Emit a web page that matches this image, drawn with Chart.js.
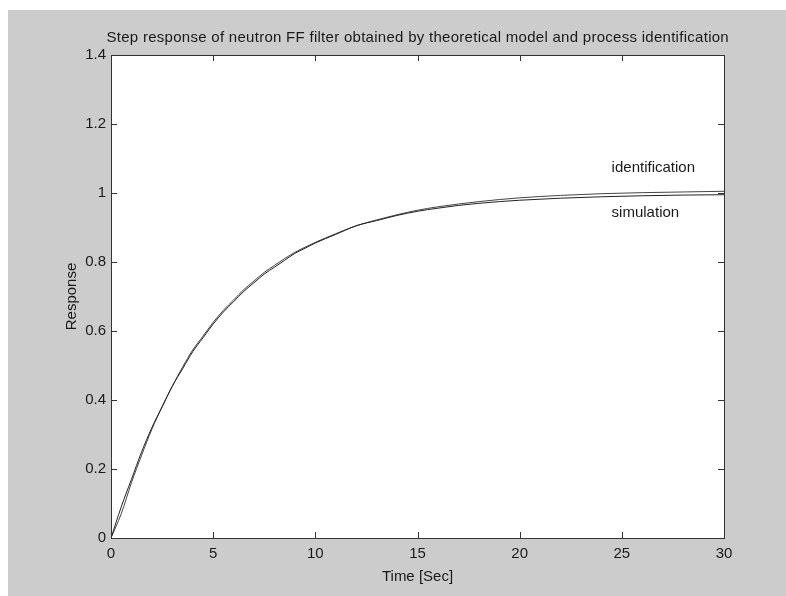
<!DOCTYPE html>
<html>
<head>
<meta charset="utf-8">
<script src="https://cdn.jsdelivr.net/npm/chart.js@4/dist/chart.umd.min.js"></script>
<style>
html,body{margin:0;padding:0;background:#ffffff;}
#wrap{position:absolute;left:0;top:0;width:786px;height:596px;}
</style>
</head>
<body>
<div id="wrap"><canvas id="c" width="786" height="596"></canvas></div>
<script>
// ---- data ----
const timeSec = [0,0.5,1,1.5,2,2.5,3,3.5,4,4.5,5,5.5,6,6.5,7,7.5,8,8.5,9,9.5,10,11,12,13,14,15,16,17,18,19,20,22,24,26,28,30];
const simulation = [0,0.09,0.17,0.25,0.32,0.38,0.44,0.49,0.54,0.58,0.62,0.655,0.685,0.715,0.74,0.765,0.785,0.805,0.825,0.84,0.855,0.88,0.905,0.92,0.935,0.947,0.956,0.964,0.97,0.975,0.979,0.985,0.989,0.992,0.994,0.995];
const identification = [0,0.07,0.16,0.24,0.315,0.38,0.44,0.495,0.545,0.585,0.625,0.66,0.69,0.72,0.745,0.77,0.79,0.81,0.828,0.843,0.857,0.882,0.905,0.922,0.937,0.95,0.96,0.968,0.975,0.981,0.986,0.993,0.998,1.001,1.003,1.005];
const xTicks = [0,5,10,15,20,25,30];
const yTicks = [0,0.2,0.4,0.6,0.8,1,1.2,1.4];
const titleText = "Step response of neutron FF filter obtained by theoretical model and process identification";
const xTitle = "Time [Sec]";
const yTitle = "Response";
const curveLabels = [{text:"identification", x:24.5, y:1.072},{text:"simulation", x:24.5, y:0.942}];

const FONT = '"Liberation Sans", Arial, sans-serif';
const INK = '#1a1a1a';

const toPts = (xs, ys) => xs.map((x,i)=>({x:x, y:ys[i]}));

const decor = {
  id:'decor',
  beforeDraw(chart){
    const ctx = chart.ctx;
    ctx.save();
    ctx.fillStyle = '#cccccc';
    ctx.fillRect(8,10,778,586);
    const a = chart.chartArea;
    ctx.fillStyle = '#ffffff';
    ctx.fillRect(a.left,a.top,a.right-a.left,a.bottom-a.top);
    ctx.restore();
  },
  afterDraw(chart){
    const ctx = chart.ctx;
    const a = chart.chartArea;
    const xs = chart.scales.x, ys = chart.scales.y;
    ctx.save();
    ctx.strokeStyle = '#333333';
    ctx.lineWidth = 1;
    ctx.strokeRect(Math.round(a.left)+0.5, Math.round(a.top)+0.5, Math.round(a.right-a.left), Math.round(a.bottom-a.top));
    ctx.beginPath();
    const tl = 6;
    xTicks.forEach(v=>{
      const px = Math.round(xs.getPixelForValue(v))+0.5;
      ctx.moveTo(px,a.bottom); ctx.lineTo(px,a.bottom-tl);
      ctx.moveTo(px,a.top); ctx.lineTo(px,a.top+tl);
    });
    yTicks.forEach(v=>{
      const py = Math.round(ys.getPixelForValue(v))+0.5;
      ctx.moveTo(a.left,py); ctx.lineTo(a.left+tl,py);
      ctx.moveTo(a.right,py); ctx.lineTo(a.right-tl,py);
    });
    ctx.stroke();
    // title, spread to the reference width
    ctx.fillStyle = INK;
    ctx.font = '15px ' + FONT;
    ctx.textBaseline = 'middle';
    ctx.textAlign = 'left';
    const targetW = 622;
    const w0 = ctx.measureText(titleText).width;
    const ls = (targetW - w0) / (titleText.length - 1);
    ctx.letterSpacing = ls.toFixed(2) + 'px';
    const cx = (a.left+a.right)/2;
    ctx.fillText(titleText, cx - targetW/2, 38);
    ctx.letterSpacing = '0px';
    ctx.textAlign = 'center';
    // x title
    ctx.fillText(xTitle, cx, 577);
    // y title
    ctx.save();
    ctx.translate(72, (a.top+a.bottom)/2);
    ctx.rotate(-Math.PI/2);
    ctx.fillText(yTitle, 0, 0);
    ctx.restore();
    // curve labels
    ctx.textAlign = 'left';
    curveLabels.forEach(l=>{
      ctx.fillText(l.text, xs.getPixelForValue(l.x), ys.getPixelForValue(l.y));
    });
    ctx.restore();
  }
};

new Chart(document.getElementById('c'), {
  type:'line',
  data:{
    datasets:[
      {label:'simulation', data:toPts(timeSec, simulation), borderColor:'#222222', borderWidth:1, pointRadius:0, cubicInterpolationMode:'monotone', fill:false},
      {label:'identification', data:toPts(timeSec, identification), borderColor:'#444444', borderWidth:1, pointRadius:0, cubicInterpolationMode:'monotone', fill:false}
    ]
  },
  options:{
    responsive:false,
    animation:false,
    layout:{padding:{left:0, top:55, right:62, bottom:0}},
    plugins:{legend:{display:false}, tooltip:{enabled:false}, title:{display:false}},
    scales:{
      x:{
        type:'linear', min:0, max:30,
        afterBuildTicks(s){ s.ticks = xTicks.map(v=>({value:v})); },
        afterFit(s){ s.height = 58; },
        grid:{display:false, drawTicks:false},
        border:{display:false},
        ticks:{padding:7, color:INK, font:{family:FONT, size:15}, maxRotation:0, autoSkip:false, callback:v=>String(v)}
      },
      y:{
        type:'linear', min:0, max:1.4,
        afterBuildTicks(s){ s.ticks = yTicks.map(v=>({value:v})); },
        afterFit(s){ s.width = 111; },
        grid:{display:false, drawTicks:false},
        border:{display:false},
        ticks:{padding:5, color:INK, font:{family:FONT, size:15}, autoSkip:false, callback:v=>String(Math.round(v*10)/10)}
      }
    }
  },
  plugins:[decor]
});
</script>
</body>
</html>
